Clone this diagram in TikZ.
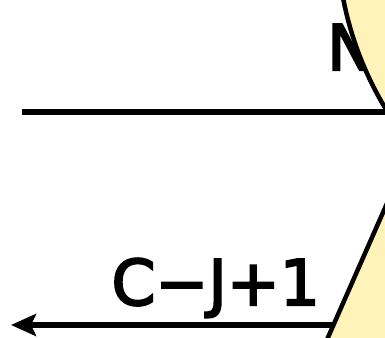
\documentclass[tikz,border=0pt]{standalone}
\usepackage{fontspec}
\setmainfont{DejaVu Sans}[FakeBold=3.2]
\usepackage{tikz}
\usetikzlibrary{arrows.meta, shapes.geometric}
\definecolor{softyellow}{RGB}{255,243,185}

\begin{document}
\begin{tikzpicture}[
  x=1pt, y=1pt,
  every node/.style={font=\fontsize{63}{70}\selectfont},
  lbl/.style={inner sep=0pt},
  ed/.style={line width=5.5pt, black},
  bubble/.style={draw=black, line width=4.5pt, fill=softyellow}
]
\useasboundingbox (0,0) rectangle (385,337);
\clip (0,0) rectangle (385,337);
\coordinate (topstart) at (22,225);
\coordinate (lowend) at (345,12);
\coordinate (lowtip) at (11,12);
\node[lbl, anchor=base west] (nlabel) at (327,267) {N};
\node[lbl, anchor=base east] (cjlabel) at (320,32) {C−J+1};
\draw[ed] (topstart) -- (topstart -| 700,0);
\draw[ed, -{Stealth[length=25pt, width=22pt, inset=5pt]}] (lowend) -- (lowtip);
\node[bubble, circle, minimum size=676pt, inner sep=0pt] (topnode) at (675,403) {};
\filldraw[bubble] (322,-14) -- (392,145) -- (400,145) -- (400,-14) -- cycle;
\end{tikzpicture}
\end{document}
